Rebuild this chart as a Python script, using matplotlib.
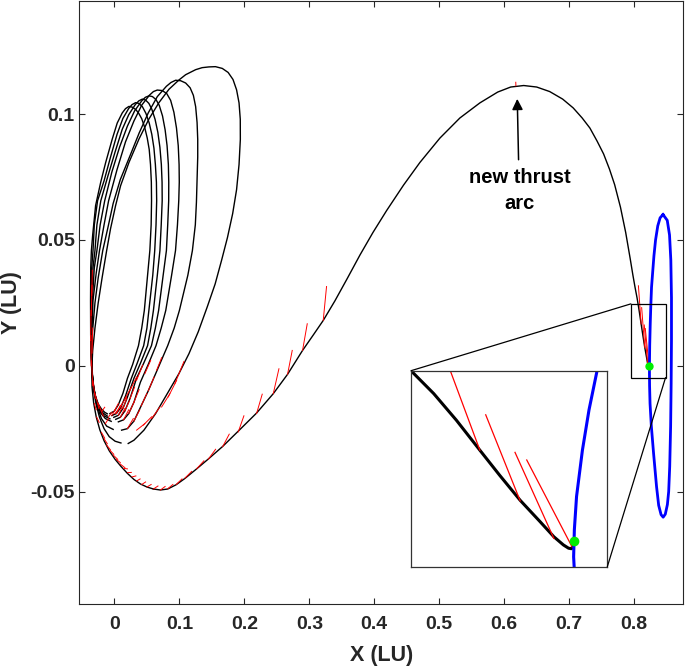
import matplotlib
matplotlib.use('Agg')
import matplotlib.pyplot as plt
from matplotlib.patches import Rectangle, ConnectionPatch

plt.rcParams['font.family'] = ['Liberation Sans', 'DejaVu Sans']
plt.rcParams['font.weight'] = 'bold'
plt.rcParams['font.size'] = 14

# spiral loops (x, y in LU), each one starts at its lowest point
loop1 = [(-0.007, -0.0190), (0.000, -0.0180), (0.006, -0.0155), (0.013, -0.0110), (0.020, -0.0050),
         (0.028, 0.0005), (0.037, 0.0080), (0.042, 0.0150), (0.046, 0.0220), (0.051, 0.0360),
         (0.0545, 0.0458), (0.0565, 0.0560), (0.0571, 0.0656), (0.0568, 0.0730), (0.0555, 0.0800),
         (0.0535, 0.0860), (0.0505, 0.0905), (0.0465, 0.0948), (0.0420, 0.0982), (0.0375, 0.1003),
         (0.0330, 0.1018), (0.0275, 0.1028), (0.0223, 0.1031), (0.0170, 0.1022), (0.0120, 0.1005),
         (0.0043, 0.0965), (-0.0034, 0.0901), (-0.0135, 0.0808), (-0.0212, 0.0729), (-0.0290, 0.0637),
         (-0.0335, 0.0520), (-0.0355, 0.0458), (-0.0365, 0.0390), (-0.0368, 0.0260), (-0.0366, 0.0120),
         (-0.0360, 0.0040), (-0.0350, -0.0015), (-0.0330, -0.0070), (-0.0295, -0.0118), (-0.0250, -0.0152),
         (-0.0200, -0.0172), (-0.0150, -0.0185), (-0.0110, -0.0191)]
loop2 = [(-0.004, -0.0198), (0.003, -0.0190), (0.010, -0.0165), (0.017, -0.0120), (0.026, -0.0050),
         (0.035, 0.0010), (0.045, 0.0080), (0.050, 0.0150), (0.053, 0.0220), (0.059, 0.0360),
         (0.062, 0.0458), (0.064, 0.0560), (0.065, 0.0656), (0.0646, 0.0730), (0.0630, 0.0800),
         (0.0608, 0.0865), (0.0575, 0.0920), (0.0535, 0.0965), (0.0485, 0.1003), (0.0430, 0.1030),
         (0.0375, 0.1043), (0.0326, 0.1046), (0.0270, 0.1038), (0.0220, 0.1023), (0.0130, 0.0983),
         (0.0040, 0.0920), (-0.006, 0.0830), (-0.016, 0.0735), (-0.026, 0.0656), (-0.031, 0.0560),
         (-0.033, 0.0458), (-0.035, 0.0390), (-0.036, 0.0260), (-0.0362, 0.0120), (-0.0357, 0.0040),
         (-0.0347, -0.0020), (-0.0325, -0.0080), (-0.0285, -0.0130), (-0.0235, -0.0165), (-0.0175, -0.0188),
         (-0.0110, -0.0200)]
loop3 = [(-0.001, -0.0205), (0.006, -0.0197), (0.013, -0.0170), (0.020, -0.0125), (0.030, -0.0050),
         (0.040, 0.0010), (0.051, 0.0080), (0.056, 0.0150), (0.060, 0.0220), (0.066, 0.0360),
         (0.070, 0.0458), (0.072, 0.0560), (0.0735, 0.0656), (0.0733, 0.0730), (0.0722, 0.0800),
         (0.0700, 0.0868), (0.0668, 0.0928), (0.0625, 0.0980), (0.0575, 0.1020), (0.0530, 0.1043),
         (0.0480, 0.1056), (0.0429, 0.1060), (0.0375, 0.1053), (0.0320, 0.1038), (0.0220, 0.0998),
         (0.0120, 0.0940), (0.001, 0.0850), (-0.010, 0.0755), (-0.021, 0.0656), (-0.027, 0.0560),
         (-0.030, 0.0458), (-0.033, 0.0390), (-0.035, 0.0260), (-0.0358, 0.0120), (-0.0355, 0.0040),
         (-0.0345, -0.0025), (-0.0322, -0.0085), (-0.0282, -0.0137), (-0.0230, -0.0175), (-0.0160, -0.0199),
         (-0.0070, -0.0211)]
loop4 = [(0.002, -0.0213), (0.009, -0.0205), (0.016, -0.0180), (0.024, -0.0130), (0.034, -0.0050),
         (0.045, 0.0010), (0.057, 0.0080), (0.063, 0.0150), (0.068, 0.0220), (0.075, 0.0360),
         (0.080, 0.0458), (0.082, 0.0560), (0.0835, 0.0656), (0.0836, 0.0730), (0.0830, 0.0800),
         (0.0810, 0.0875), (0.0780, 0.0938), (0.0740, 0.0993), (0.0690, 0.1035), (0.0640, 0.1058),
         (0.0585, 0.1070), (0.0531, 0.1073), (0.0475, 0.1067), (0.0420, 0.1053), (0.0310, 0.1013),
         (0.0200, 0.0953), (0.008, 0.0870), (-0.004, 0.0770), (-0.015, 0.0656), (-0.022, 0.0560),
         (-0.027, 0.0458), (-0.031, 0.0390), (-0.034, 0.0260), (-0.0355, 0.0120), (-0.0352, 0.0040),
         (-0.0342, -0.0030), (-0.0318, -0.0092), (-0.0275, -0.0145), (-0.0215, -0.0187), (-0.0140, -0.0210),
         (-0.0050, -0.0221)]
loop5 = [(0.006, -0.0223), (0.014, -0.0215), (0.022, -0.0190), (0.030, -0.0145), (0.040, -0.0065),
         (0.052, 0.0005), (0.064, 0.0080), (0.072, 0.0150), (0.079, 0.0220), (0.088, 0.0360),
         (0.094, 0.0458), (0.097, 0.0560), (0.099, 0.0656), (0.0998, 0.0730), (0.0995, 0.0800),
         (0.0982, 0.0875), (0.0955, 0.0945), (0.0915, 0.1008), (0.0865, 0.1055), (0.0805, 0.1082),
         (0.0735, 0.1094), (0.0659, 0.1096), (0.0600, 0.1090), (0.0540, 0.1076), (0.0420, 0.1036),
         (0.0300, 0.0973), (0.017, 0.0890), (0.004, 0.0780), (-0.009, 0.0656), (-0.016, 0.0560),
         (-0.023, 0.0458), (-0.028, 0.0370), (-0.033, 0.0260), (-0.035, 0.0120), (-0.0350, 0.0040),
         (-0.0339, -0.0035), (-0.0312, -0.0103), (-0.0265, -0.0163), (-0.0200, -0.0210), (-0.0120, -0.0240),
         (-0.0020, -0.0253)]
loop6 = [(0.011, -0.0256), (0.020, -0.0250), (0.030, -0.0220), (0.041, -0.0160), (0.052, -0.0100),
         (0.067, -0.0010), (0.082, 0.0080), (0.092, 0.0150), (0.100, 0.0220), (0.113, 0.0360),
         (0.120, 0.0458), (0.1245, 0.0560), (0.1262, 0.0650), (0.1272, 0.0740), (0.1282, 0.0830),
         (0.1282, 0.0900), (0.1272, 0.0967), (0.1250, 0.1030), (0.1215, 0.1075), (0.1165, 0.1105),
         (0.1096, 0.1124), (0.1020, 0.1133), (0.0942, 0.1135), (0.0870, 0.1126), (0.0800, 0.1111),
         (0.066, 0.1070), (0.052, 0.1005), (0.038, 0.0925), (0.024, 0.0835), (0.009, 0.0740),
         (-0.002, 0.0645), (-0.010, 0.0550), (-0.018, 0.0458), (-0.025, 0.0350), (-0.030, 0.0250),
         (-0.034, 0.0130), (-0.0350, 0.0040), (-0.0346, -0.0030), (-0.0325, -0.0090), (-0.0285, -0.0150),
         (-0.0230, -0.0205), (-0.0160, -0.0250), (-0.0080, -0.0282), (0.0010, -0.0300), (0.0100, -0.0307)]
loop7 = [(0.0212, -0.0309), (0.0300, -0.0296), (0.0454, -0.0256), (0.0634, -0.0190), (0.0813, -0.0111),
         (0.0993, -0.0031), (0.1147, 0.0048), (0.1290, 0.0135), (0.1430, 0.0235), (0.1550, 0.0325),
         (0.1650, 0.0420), (0.1740, 0.0510), (0.1820, 0.0605), (0.1880, 0.0700), (0.1918, 0.0800),
         (0.1938, 0.0900), (0.1937, 0.0980), (0.1918, 0.1045), (0.1880, 0.1097), (0.1825, 0.1138),
         (0.1750, 0.1166), (0.1660, 0.1182), (0.1555, 0.1189), (0.1455, 0.1188), (0.1350, 0.1185),
         (0.1250, 0.1177), (0.1096, 0.1157), (0.0993, 0.1136), (0.0839, 0.1099), (0.0685, 0.1046),
         (0.0531, 0.0981), (0.0377, 0.0901), (0.0223, 0.0808), (0.0095, 0.0716), (0.0018, 0.0637),
         (-0.0060, 0.0545), (-0.0120, 0.0458), (-0.0190, 0.0350), (-0.0250, 0.0250), (-0.0300, 0.0150),
         (-0.0335, 0.0060), (-0.0350, -0.0020), (-0.0345, -0.0085), (-0.0320, -0.0148), (-0.0280, -0.0204),
         (-0.0225, -0.0255), (-0.0160, -0.0298), (-0.0080, -0.0338), (0.0010, -0.0372), (0.0100, -0.0400),
         (0.0200, -0.0428), (0.0300, -0.0452), (0.0400, -0.0470), (0.0500, -0.0482), (0.0600, -0.0490)]
# transfer towards the L1 orbit
transfer = [(0.0600, -0.0490), (0.0708, -0.0494), (0.0820, -0.0490), (0.0950, -0.0473), (0.1085, -0.0448),
            (0.1265, -0.0410), (0.1444, -0.0371), (0.1665, -0.0321), (0.1906, -0.0260), (0.2188, -0.0188),
            (0.2445, -0.0111), (0.2665, -0.0034), (0.2896, 0.0061), (0.3060, 0.0122), (0.3214, 0.0180),
            (0.3394, 0.0258), (0.3580, 0.0345), (0.3779, 0.0440), (0.3980, 0.0530), (0.4190, 0.0617),
            (0.4450, 0.0718), (0.4702, 0.0808), (0.5010, 0.0905), (0.5318, 0.0985), (0.5626, 0.1045),
            (0.5900, 0.1088), (0.6100, 0.1108), (0.6300, 0.1114), (0.6500, 0.1108), (0.6700, 0.1090),
            (0.6900, 0.1060), (0.7062, 0.1025), (0.7200, 0.0985), (0.7319, 0.0945), (0.7430, 0.0893),
            (0.7530, 0.0842), (0.7620, 0.0782), (0.7700, 0.0720), (0.7790, 0.0630), (0.7870, 0.0530),
            (0.7940, 0.0425), (0.7980, 0.0362), (0.8014, 0.0312), (0.8045, 0.0270), (0.8076, 0.0221),
            (0.8108, 0.0166), (0.8135, 0.0120), (0.8163, 0.0074), (0.8190, 0.0035), (0.8209, 0.0007),
            (0.8222, -0.0008), (0.8229, -0.0014), (0.8233, -0.0015), (0.8236, -0.0008), (0.8236, -0.0003)]
# target periodic orbit
halo = [(0.8445, 0.0601), (0.8400, 0.0588), (0.8364, 0.0556), (0.8330, 0.0500), (0.8305, 0.0437),
        (0.8285, 0.0370), (0.8268, 0.0312), (0.8257, 0.0240), (0.8248, 0.0166), (0.8240, 0.0081),
        (0.8237, 0.0020), (0.8236, -0.0030), (0.8238, -0.0080), (0.8245, -0.0150), (0.8265, -0.0240),
        (0.8300, -0.0350), (0.8345, -0.0480), (0.8378, -0.0555), (0.8415, -0.0592), (0.8447, -0.0602),
        (0.8480, -0.0590), (0.8512, -0.0552), (0.8532, -0.0500), (0.8548, -0.0400), (0.8562, -0.0240),
        (0.8570, -0.0070), (0.8575, 0.0100), (0.8575, 0.0270), (0.8565, 0.0420), (0.8545, 0.0520),
        (0.8510, 0.0578), (0.8445, 0.0601)]
insertion = (0.8236, 0.0)

# thrust vectors (x0, y0, x1, y1)
thrust_transfer = [(0.3214, 0.0180, 0.3265, 0.0315), (0.2896, 0.0061, 0.2968, 0.0167),
                   (0.2665, -0.0034, 0.2737, 0.0061), (0.2445, -0.0111, 0.2532, -0.0012),
                   (0.2188, -0.0190, 0.2275, -0.0113), (0.1906, -0.0263, 0.1993, -0.0199),
                   (0.1665, -0.0322, 0.1767, -0.0272), (0.1444, -0.0372, 0.1557, -0.0332),
                   (0.1265, -0.0410, 0.1377, -0.0378), (0.1085, -0.0447, 0.1188, -0.0420),
                   (0.0950, -0.0472, 0.1040, -0.0450), (0.0820, -0.0489, 0.0900, -0.0472),
                   (0.0708, -0.0494, 0.0780, -0.0480), (0.0600, -0.0490, 0.0670, -0.0478),
                   (0.0500, -0.0482, 0.0565, -0.0472), (0.0420, -0.0472, 0.0480, -0.0462),
                   (0.0342, -0.0458, 0.0395, -0.0450), (0.0270, -0.0442, 0.0330, -0.0438),
                   (0.0200, -0.0425, 0.0260, -0.0424), (0.0140, -0.0408, 0.0200, -0.0410),
                   (0.0085, -0.0390, 0.0160, -0.0405), (0.0030, -0.0373, 0.0090, -0.0385),
                   (-0.0020, -0.0355, 0.0050, -0.0372), (-0.0070, -0.0336, -0.0010, -0.0352),
                   (-0.0120, -0.0315, -0.0060, -0.0335), (-0.0160, -0.0290, -0.0110, -0.0310),
                   (-0.0200, -0.0265, -0.0150, -0.0288), (-0.0274, -0.0204, -0.0235, -0.0225),
                   (-0.0310, -0.0150, -0.0280, -0.0175)]
thrust_loops = [(0.0649, -0.0018, 0.0726, 0.0032), (0.0931, -0.0071, 0.1070, 0.0017),
                (0.0828, -0.0124, 0.0957, -0.0058), (0.0726, -0.0164, 0.0854, -0.0111),
                (0.0572, -0.0210, 0.0700, -0.0164), (0.0444, -0.0236, 0.0572, -0.0203),
                (0.0341, -0.0256, 0.0469, -0.0230), (0.0469, -0.0031, 0.0557, 0.0021),
                (0.0341, -0.0058, 0.0433, 0.0002), (0.0238, -0.0098, 0.0341, -0.0045),
                (0.0161, -0.0131, 0.0264, -0.0084), (0.0085, -0.0164, 0.0187, -0.0124),
                (0.0008, -0.0190, 0.0110, -0.0157), (0.0520, -0.0100, 0.0610, -0.0045),
                (0.0410, -0.0160, 0.0500, -0.0110), (0.0300, -0.0220, 0.0390, -0.0175),
                (0.0200, -0.0250, 0.0290, -0.0210), (0.0300, -0.0145, 0.0380, -0.0095),
                (0.0220, -0.0190, 0.0300, -0.0145), (0.0140, -0.0215, 0.0220, -0.0175),
                (0.0240, -0.0130, 0.0310, -0.0085), (0.0160, -0.0180, 0.0230, -0.0140),
                (0.0090, -0.0205, 0.0160, -0.0170), (0.0130, -0.0170, 0.0190, -0.0130),
                (0.0060, -0.0197, 0.0120, -0.0163), (0.0030, -0.0190, 0.0090, -0.0158),
                (0.0000, -0.0180, 0.0060, -0.0150), (-0.0040, -0.0198, 0.0010, -0.0175),
                (-0.0090, -0.0203, -0.0040, -0.0185), (-0.0140, -0.0230, -0.0090, -0.0210),
                (-0.0190, -0.0180, -0.0150, -0.0165), (-0.0345, 0.0320, -0.0358, 0.0200),
                (-0.0360, 0.0220, -0.0366, 0.0100), (-0.0362, 0.0120, -0.0358, 0.0000),
                (-0.0352, 0.0020, -0.0335, -0.0080), (-0.0330, -0.0060, -0.0295, -0.0130),
                (-0.0300, -0.0110, -0.0240, -0.0170), (-0.0250, -0.0150, -0.0170, -0.0200),
                (-0.0340, 0.0380, -0.0350, 0.0280), (-0.0335, 0.0150, -0.0345, 0.0050)]
thrust_final = [(0.8108, 0.0166, 0.8066, 0.0318), (0.8163, 0.0073, 0.8116, 0.0231),
                (0.8209, 0.0004, 0.8156, 0.0162), (0.8234, -0.0012, 0.8172, 0.0148),
                (0.6180, 0.1113, 0.6178, 0.1127)]

zoom_box = (0.795, -0.0047, 0.8484, 0.0246)
inset_xlim = (0.8014, 0.8282)
inset_ylim = (-0.0048, 0.0312)

fig = plt.figure(figsize=(6.85, 6.67), dpi=100)
ax = fig.add_axes([0.1153, 0.0945, 0.8825, 0.9040])


def draw_all(a, lw_traj, lw_halo, lw_red, ms):
    for seg in [loop1, loop2, loop3, loop4, loop5, loop6, loop7, transfer]:
        a.plot([p[0] for p in seg], [p[1] for p in seg], color='k', lw=lw_traj)
    for x0, y0, x1, y1 in thrust_transfer + thrust_loops + thrust_final:
        a.plot([x0, x1], [y0, y1], color='red', lw=lw_red)
    a.plot([p[0] for p in halo], [p[1] for p in halo], color='blue', lw=lw_halo)
    a.plot(*insertion, 'o', color='#00ee00', ms=ms, mec='none')


draw_all(ax, 1.0, 2.0, 0.7, 6)

ax.set_xlim(-0.0546, 0.876)
ax.set_ylim(-0.0947, 0.145)
ax.set_xticks([0, 0.1, 0.2, 0.3, 0.4, 0.5, 0.6, 0.7, 0.8])
ax.set_xticklabels(['0', '0.1', '0.2', '0.3', '0.4', '0.5', '0.6', '0.7', '0.8'])
ax.set_yticks([-0.05, 0, 0.05, 0.1])
ax.set_yticklabels(['-0.05', '0', '0.05', '0.1'])
ax.tick_params(direction='in', top=True, right=True, length=4.5, width=0.8,
               colors='#262626', labelsize=14)
ax.tick_params(axis='x', pad=9)
ax.tick_params(axis='y', pad=3)
for s in ax.spines.values():
    s.set_color('#262626')
    s.set_linewidth(0.8)
ax.set_xlabel('X (LU)', fontsize=15.5, fontweight='bold', color='#262626', labelpad=8)
ax.set_ylabel('Y (LU)', fontsize=15.5, fontweight='bold', color='#262626')
ax.yaxis.set_label_coords(-0.094, 0.5)

ax.add_patch(Rectangle(zoom_box[:2], zoom_box[2] - zoom_box[0], zoom_box[3] - zoom_box[1],
                       fill=False, ec='k', lw=0.9, zorder=5))

ax.annotate('', xy=(0.6200, 0.1072), xytext=(0.6222, 0.0808),
            arrowprops=dict(arrowstyle='-|>', color='k', lw=1.1, mutation_scale=16))
ax.text(0.6235, 0.0698, 'new thrust\narc', ha='center', va='center', fontsize=14.5,
        fontweight='bold', linespacing=1.45)

axins = fig.add_axes([0.600, 0.1504, 0.2866, 0.2938])
draw_all(axins, 2.2, 2.2, 0.9, 7)
axins.set_xlim(*inset_xlim)
axins.set_ylim(*inset_ylim)
axins.set_xticks([])
axins.set_yticks([])
for s in axins.spines.values():
    s.set_color('#333333')
    s.set_linewidth(0.9)

for pa, pb in [((zoom_box[0], zoom_box[3]), (0, 1)), ((zoom_box[2], zoom_box[1]), (1, 0))]:
    fig.add_artist(ConnectionPatch(xyA=pa, coordsA=ax.transData, xyB=pb, coordsB=axins.transAxes,
                                   color='k', lw=0.9))

fig.savefig('out.png', dpi=100)
